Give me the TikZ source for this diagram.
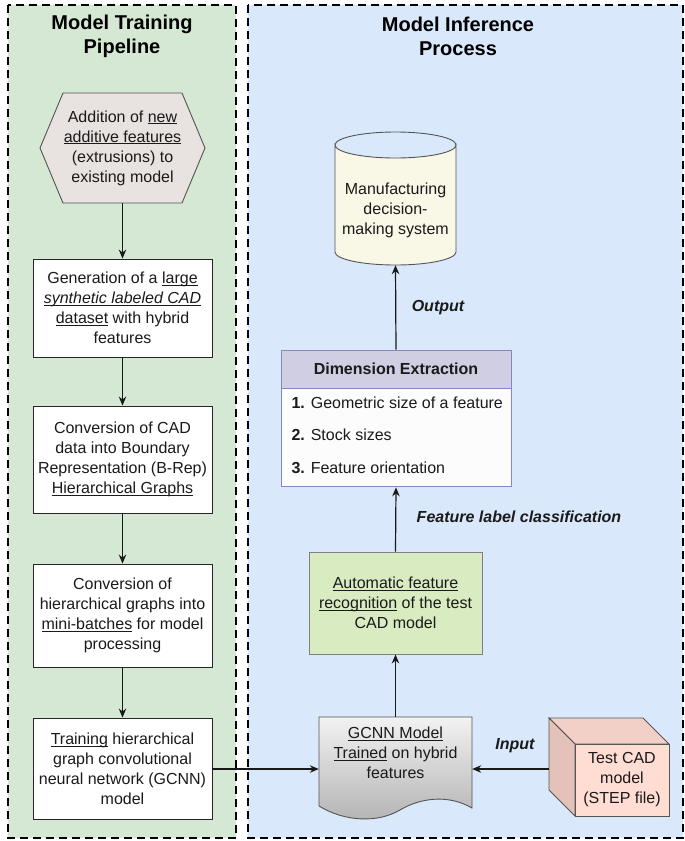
\documentclass[tikz,border=0pt]{standalone}
\usepackage{fontspec}
\setmainfont{Liberation Sans}
\usetikzlibrary{arrows.meta}

\definecolor{trainbg}{HTML}{D5E8D4}
\definecolor{inferbg}{HTML}{DAE8FC}
\definecolor{hexfill}{HTML}{E8E2E0}
\definecolor{cylfill}{HTML}{F9F7E6}
\definecolor{hdrfill}{HTML}{D0CEE2}
\definecolor{hdrdraw}{HTML}{8C86BE}
\definecolor{listfill}{HTML}{FCFCFC}
\definecolor{afrfill}{HTML}{D9EBC1}
\definecolor{cubefront}{HTML}{FFDDD3}
\definecolor{cubetop}{HTML}{F2D0C7}
\definecolor{cubeside}{HTML}{E5C2B9}
\definecolor{txt}{HTML}{1A1A1A}
\definecolor{edge}{HTML}{555555}

% underline at a fixed distance below the baseline
\newcommand\myul[1]{\setbox0\hbox{#1}\rlap{\rule[-2.2pt]{\wd0}{0.9pt}}\box0\relax}

\begin{document}
\begin{tikzpicture}[x=1pt,y=-1pt,
  panel/.style={dash pattern=on 8pt off 5pt, line width=2pt, draw=black},
  paneltitle/.style={font=\fontsize{20}{24}\selectfont\bfseries, align=center, text=black},
  body/.style={font=\fontsize{16}{20}\selectfont, align=center, text=txt},
  stepbox/.style={body, draw=black!85, line width=0.9pt, fill=white, minimum width=179pt, inner sep=0pt},
  anchorbox/.style={rectangle, inner sep=0pt},
  arr/.style={-{Stealth[length=9pt,width=7.5pt]}, line width=1.2pt, draw=black!90},
  elabel/.style={font=\fontsize{16}{20}\selectfont\bfseries\itshape, text=txt}
]
\useasboundingbox (0,0) rectangle (685,841);

% ---- panels ----
\draw[panel, fill=trainbg] (8,5) rectangle (236,838);
\draw[panel, fill=inferbg] (248,5) rectangle (683,838);
\node[paneltitle] (ttrain) at (122,36) {Model Training\\Pipeline};
\node[paneltitle] (tinfer) at (458,36) {Model Inference\\Process};

% ---- training pipeline ----
\draw[fill=hexfill, draw=edge, line width=0.9pt]
  (40,148) -- (63,93) -- (182,93) -- (205,148) -- (182,203) -- (63,203) -- cycle;
\node[anchorbox, body, minimum width=165pt, minimum height=110pt] (hex) at (122.5,148)
  {Addition of \myul{new}\\\myul{additive features}\\(extrusions) to\\existing model};

\node[stepbox, minimum height=98pt] (b2) at (122.5,308)
  {Generation of a \myul{large}\\\myul{\itshape synthetic labeled CAD}\\\myul{dataset} with hybrid\\features};
\node[stepbox, minimum height=107pt] (b3) at (122.5,459.5)
  {Conversion of CAD\\data into Boundary\\Representation (B-Rep)\\\myul{Hierarchical Graphs}};
\node[stepbox, minimum height=103pt] (b4) at (122.5,615.5)
  {Conversion of\\hierarchical graphs into\\\myul{mini-batches} for model\\processing};
\node[stepbox, minimum height=101pt] (b5) at (122.5,768.5)
  {\myul{Training} hierarchical\\graph convolutional\\neural network (GCNN)\\model};

\draw[arr] (hex.south) -- (b2.north);
\draw[arr] (b2.south) -- (b3.north);
\draw[arr] (b3.south) -- (b4.north);
\draw[arr] (b4.south) -- (b5.north);

% ---- inference process ----
% storage cylinder
\draw[fill=cylfill, draw=edge, line width=0.9pt]
  (335,145) -- (335,252) arc[start angle=180, end angle=360, x radius=60.5pt, y radius=13pt]
  -- (456,145) arc[start angle=0, end angle=-180, x radius=60.5pt, y radius=13pt] -- cycle;
\draw[draw=edge, line width=0.9pt] (335,145) arc[start angle=180, end angle=360, x radius=60.5pt, y radius=-13pt];
\node[anchorbox, minimum width=121pt, minimum height=133pt] (cyl) at (395.5,198.5) {};
\node[body] (cyltext) at (395.5,210) {Manufacturing\\decision-\\making system};

% dimension extraction list
\node[anchorbox, draw=hdrdraw, fill=hdrfill, line width=0.9pt, minimum width=230pt, minimum height=38pt,
  font=\fontsize{16}{20}\selectfont\bfseries, text=txt] (dhead) at (396,369) {Dimension Extraction};
\node[anchorbox, draw=hdrdraw, fill=listfill, line width=0.9pt, minimum width=230pt, minimum height=98pt,
  anchor=north] (dbody) at (dhead.south) {};
\node[body, anchor=west] (item1) at (288,403) {\textbf{1.} Geometric size of a feature};
\node[body, anchor=west] (item2) at (288,435) {\textbf{2.} Stock sizes};
\node[body, anchor=west] (item3) at (288,468) {\textbf{3.} Feature orientation};

% feature recognition
\node[body, draw=black!50, fill=afrfill, line width=0.9pt, minimum width=173pt, minimum height=102pt,
  inner sep=0pt] (afr) at (395.5,603)
  {\myul{Automatic feature}\\\myul{recognition} of the test\\CAD model};

% trained model document
\draw[top color=black!5, bottom color=black!30, draw=edge, line width=0.9pt]
  (319,717) -- (472,717) -- (472,808)
  .. controls (448,794) and (420,798) .. (400,810)
  .. controls (378,823) and (345,822) .. (319,806) -- cycle;
\node[anchorbox, minimum width=153pt, minimum height=104pt] (doc) at (395.5,769) {};
\node[body] (doctext) at (395.5,753) {\myul{GCNN Model}\\\myul{Trained} on hybrid\\features};

% test CAD cube
\draw[fill=cubetop, draw=edge, line width=0.9pt] (549,718) -- (643,718) -- (669,744) -- (575,744) -- cycle;
\draw[fill=cubeside, draw=edge, line width=0.9pt] (549,718) -- (575,744) -- (575,816) -- (549,790) -- cycle;
\draw[fill=cubefront, draw=edge, line width=0.9pt] (575,744) rectangle (669,816);
\node[anchorbox, minimum width=120pt, minimum height=98pt] (cube) at (609,767) {};
\node[body] (cubetext) at (622,780) {Test CAD\\model\\(STEP file)};

% connectors
\draw[arr] (b5.east |- doc.west) -- (doc.west);
\draw[arr] (cube.west |- doc.east) -- (doc.east);
\draw[arr] (doc.north) -- (afr.south);
\draw[arr] (afr.north) -- (dbody.south);
\draw[arr] (dhead.north) -- (cyl.south);

\node[elabel] (linput) at (515,746) {Input};
\node[elabel] (lclass) at (519,517) {Feature label classification};
\node[elabel] (loutput) at (438,308) {Output};
\end{tikzpicture}
\end{document}
